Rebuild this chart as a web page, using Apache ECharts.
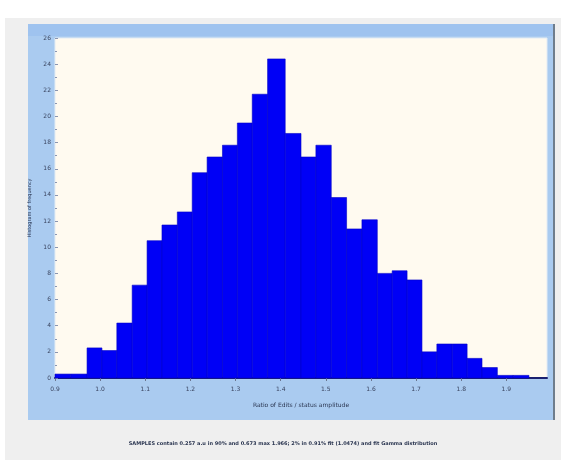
<!DOCTYPE html>
<html>
<head>
<meta charset="utf-8">
<script src="https://cdn.jsdelivr.net/npm/echarts@6/dist/echarts.min.js"></script>
<style>
  html, body { margin: 0; padding: 0; background: #ffffff; }
  #chart { width: 566px; height: 460px; }
</style>
</head>
<body>
<div id="chart"></div>
<script>
// Histogram bins: lower/upper edges (ratio units) and the height of each bin
const binEdges = [0.900, 0.935, 0.971, 1.004, 1.037, 1.071, 1.104, 1.137, 1.171, 1.204,
                  1.237, 1.271, 1.304, 1.337, 1.371, 1.410, 1.445, 1.478, 1.512, 1.546,
                  1.580, 1.614, 1.647, 1.680, 1.713, 1.746, 1.780, 1.813, 1.846, 1.880,
                  1.915, 1.950];
const binHeights = [0.3, 0.3, 2.3, 2.1, 4.2, 7.1, 10.5, 11.7, 12.7, 15.7,
                    16.9, 17.8, 19.5, 21.7, 24.4, 18.7, 16.9, 17.8, 13.8, 11.4,
                    12.1, 8.0, 8.2, 7.5, 2.0, 2.6, 2.6, 1.5, 0.8, 0.2, 0.2];

const xTickLabels = ['0.9', '1.0', '1.1', '1.2', '1.3', '1.4', '1.5', '1.6', '1.7', '1.8', '1.9'];
const yTickLabels = ['0', '2', '4', '6', '8', '10', '12', '14', '16', '18', '20', '22', '24', '26'];

const xAxisTitle = 'Ratio of Edits / status amplitude';
const yAxisTitle = 'Histogram of frequency';
const caption = 'SAMPLES contain 0.257 a.u in 90% and 0.673 max 1.966; 2% in 0.91% fit (1.0474) and fit Gamma distribution';

const histData = binHeights.map((h, i) => [binEdges[i], binEdges[i + 1], h]);

const chart = echarts.init(document.getElementById('chart'), null, { renderer: 'canvas' });

function renderBin(params, api) {
  const top = api.coord([api.value(0), api.value(2)]);
  const base = api.coord([api.value(1), 0]);
  return {
    type: 'rect',
    shape: { x: top[0], y: top[1], width: base[0] - top[0], height: base[1] - top[1] },
    style: { fill: '#0000F6', stroke: '#0000C8', lineWidth: 0.6 }
  };
}

const tickFont = { fontFamily: 'DejaVu Sans', fontSize: 6, color: '#3a4560' };

chart.setOption({
  animation: false,
  backgroundColor: '#ffffff',
  graphic: [
    { type: 'rect', z: -10, shape: { x: 5, y: 18, width: 556, height: 442 }, style: { fill: '#efefef' } },
    { type: 'rect', z: -9, shape: { x: 28, y: 24, width: 527, height: 396 }, style: { fill: '#aacbf0' } },
    { type: 'rect', z: -9, shape: { x: 28, y: 24, width: 527, height: 12 }, style: { fill: '#9fc3ef' } },
    { type: 'rect', z: -8, shape: { x: 553, y: 24, width: 2, height: 396 }, style: { fill: '#6f7d8c' } },
    {
      type: 'text', left: 'center', top: 441,
      style: { text: caption, fontFamily: 'DejaVu Sans', fontSize: 5, fontWeight: 'bold', fill: '#2a3550' }
    }
  ],
  grid: {
    left: 55, right: 19, top: 38, bottom: 82,
    show: true, backgroundColor: '#fffaf0', borderColor: '#e4ecf4', borderWidth: 1
  },
  xAxis: {
    type: 'value', min: 0.9, max: 1.99, interval: 0.1,
    name: xAxisTitle, nameLocation: 'middle', nameGap: 24,
    nameTextStyle: { fontFamily: 'DejaVu Sans', fontSize: 6, color: '#2a3550' },
    axisLine: { show: true, lineStyle: { color: '#1a2070', width: 2 } },
    axisTick: { show: true, length: 3, lineStyle: { color: '#6a7590' } },
    splitLine: { show: false },
    axisLabel: Object.assign({}, tickFont, {
      margin: 8, showMaxLabel: false,
      formatter: (v) => {
        const k = Math.round((v - 0.9) * 10);
        return Math.abs(v - (0.9 + k * 0.1)) < 1e-6 && xTickLabels[k] ? xTickLabels[k] : '';
      }
    })
  },
  yAxis: {
    type: 'value', min: 0, max: 26, interval: 2,
    name: yAxisTitle, nameLocation: 'middle', nameGap: 16,
    nameTextStyle: { fontFamily: 'DejaVu Sans', fontSize: 5, color: '#2a3550' },
    axisLine: { show: false },
    axisTick: { show: true, inside: true, length: 3, lineStyle: { color: '#8a95b0' } },
    minorTick: { show: true, splitNumber: 2, length: 2, lineStyle: { color: '#8a95b0' } },
    splitLine: { show: false },
    axisLabel: Object.assign({}, tickFont, {
      margin: 4,
      formatter: (v) => yTickLabels[Math.round(v / 2)] || ''
    })
  },
  series: [{
    type: 'custom',
    renderItem: renderBin,
    encode: { x: [0, 1], y: 2 },
    data: histData
  }]
});
</script>
</body>
</html>
